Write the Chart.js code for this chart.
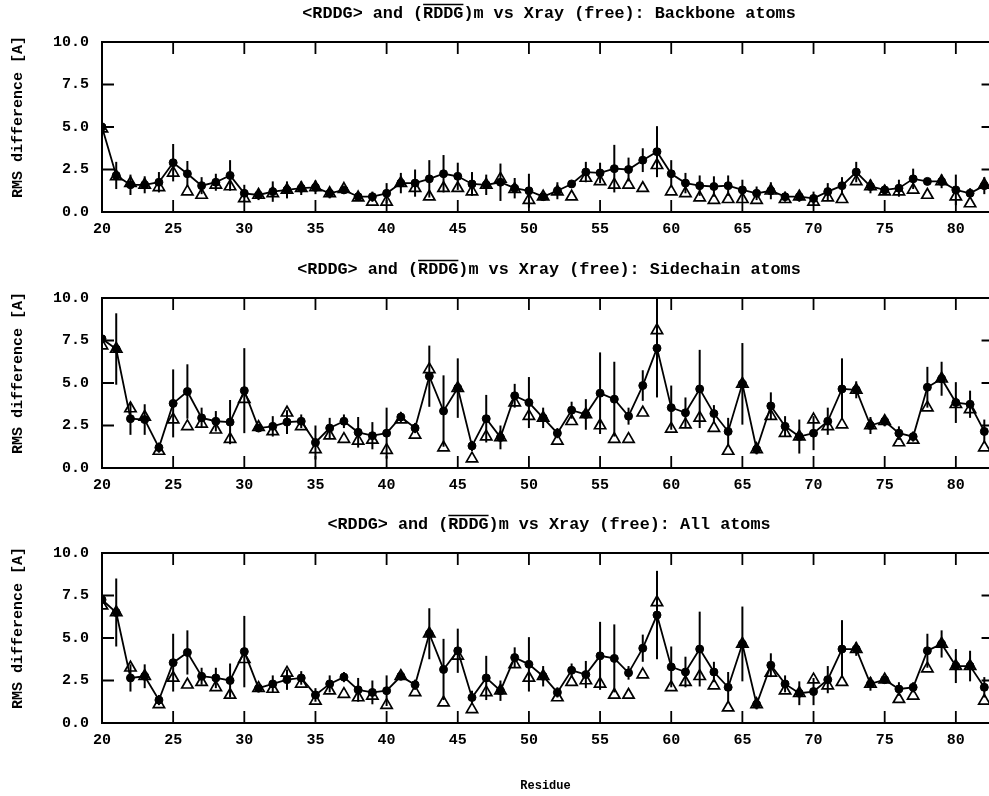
<!DOCTYPE html>
<html>
<head>
<meta charset="utf-8">
<script src="https://cdn.jsdelivr.net/npm/chart.js@4.4.1/dist/chart.umd.min.js"></script>
<style>
  html, body { margin: 0; padding: 0; background: #ffffff; }
  #wrap { position: relative; width: 989px; height: 796px; overflow: hidden; background: #ffffff; }
  canvas { position: absolute; left: 0; }
</style>
</head>
<body>
<div id="wrap">
  <canvas id="backbone" width="989" height="250" style="top:0px"></canvas>
  <canvas id="sidechain" width="989" height="250" style="top:256px"></canvas>
  <canvas id="allatoms" width="989" height="285" style="top:511px"></canvas>
</div>
<script>
const residues = [20, 21, 22, 23, 24, 25, 26, 27, 28, 29, 30, 31, 32, 33, 34, 35, 36, 37, 38, 39, 40,
  41, 42, 43, 44, 45, 46, 47, 48, 49, 50, 51, 52, 53, 54, 55, 56, 57, 58, 59, 60, 61,
  62, 63, 64, 65, 66, 67, 68, 69, 70, 71, 72, 73, 74, 75, 76, 77, 78, 79, 80, 81, 82]

// Backbone atoms: <RDDG> mean, its spread, and (RDDG)m vs Xray
const backboneMean = [5.0, 2.15, 1.6, 1.6, 1.75, 2.9, 2.25, 1.55, 1.75, 2.15, 1.1, 1.0, 1.2, 1.3, 1.4, 1.45, 1.1, 1.3, 0.9, 0.9, 1.1,
  1.7, 1.7, 1.95, 2.25, 2.1, 1.65, 1.6, 1.75, 1.4, 1.25, 0.9, 1.25, 1.65, 2.35, 2.3, 2.55, 2.5, 3.05, 3.55, 2.25, 1.7,
  1.55, 1.5, 1.55, 1.3, 1.1, 1.25, 0.9, 0.9, 0.8, 1.2, 1.55, 2.35, 1.5, 1.3, 1.4, 1.95, 1.8, 1.8, 1.3, 1.1, 1.55]
const backboneErr = [0.2, 0.8, 0.6, 0.5, 0.6, 1.1, 0.75, 0.5, 0.5, 0.9, 0.5, 0.3, 0.6, 0.5, 0.4, 0.4, 0.3, 0.2, 0.2, 0.3, 0.6,
  0.6, 0.8, 1.1, 1.1, 0.8, 0.7, 0.6, 1.1, 0.6, 1.0, 0.2, 0.5, 0.2, 0.6, 0.6, 1.4, 0.7, 0.7, 1.5, 0.8, 0.6,
  0.6, 0.6, 0.6, 0.6, 0.4, 0.5, 0.3, 0.3, 0.4, 0.5, 0.5, 0.6, 0.4, 0.3, 0.5, 0.6, 0.2, 0.4, 0.9, 0.3, 0.5]
const backboneXray = [4.9, 2.1, 1.7, 1.6, 1.45, 2.3, 1.2, 1.0, 1.6, 1.5, 0.8, 1.0, 1.1, 1.3, 1.4, 1.45, 1.1, 1.35, 0.85, 0.6, 0.6,
  1.7, 1.4, 0.9, 1.4, 1.4, 1.2, 1.6, 1.95, 1.35, 0.7, 0.9, 1.2, 0.9, 2.0, 1.8, 1.6, 1.6, 1.4, 2.75, 1.2, 1.1,
  0.85, 0.7, 0.75, 0.75, 0.7, 1.25, 0.75, 0.9, 0.6, 0.85, 0.75, 1.8, 1.5, 1.2, 1.2, 1.3, 1.0, 1.8, 0.9, 0.5, 1.6]

// Sidechain atoms
const sidechainMean = [7.6, 7.0, 2.9, 2.85, 1.2, 3.8, 4.5, 2.95, 2.75, 2.7, 4.55, 2.35, 2.45, 2.7, 2.75, 1.5, 2.35, 2.75, 2.1, 1.9, 2.05,
  3.0, 2.35, 5.4, 3.35, 4.7, 1.3, 2.9, 1.8, 4.25, 3.85, 2.95, 2.05, 3.4, 3.15, 4.4, 4.05, 3.05, 4.85, 7.05, 3.55, 3.25,
  4.65, 3.2, 2.15, 4.95, 1.1, 3.65, 2.45, 1.85, 2.05, 2.75, 4.65, 4.6, 2.5, 2.75, 2.05, 1.85, 4.75, 5.25, 3.85, 3.75, 2.15]
const sidechainErr = [0.3, 2.1, 0.95, 0.9, 0.3, 2.0, 1.6, 0.6, 0.6, 1.3, 2.5, 0.2, 0.6, 0.7, 0.4, 1.0, 0.6, 0.4, 0.9, 0.8, 1.5,
  0.3, 0.3, 1.8, 2.1, 1.75, 0.3, 1.4, 0.7, 0.7, 1.5, 0.6, 0.3, 0.5, 0.9, 2.4, 2.2, 0.5, 0.9, 2.9, 1.3, 0.9,
  2.3, 0.5, 0.8, 2.4, 0.3, 0.8, 0.6, 1.0, 1.0, 0.8, 1.8, 0.5, 0.5, 0.3, 0.4, 0.3, 1.2, 1.0, 1.2, 0.8, 0.7]
const sidechainXray = [7.2, 7.0, 3.5, 3.0, 1.0, 2.85, 2.45, 2.6, 2.25, 1.7, 4.05, 2.4, 2.15, 3.25, 2.45, 1.1, 1.9, 1.7, 1.6, 1.65, 1.05,
  2.85, 1.95, 5.8, 1.2, 4.7, 0.55, 1.85, 1.8, 3.85, 3.05, 2.95, 1.6, 2.75, 3.15, 2.5, 1.7, 1.7, 3.25, 8.1, 2.3, 2.55,
  2.95, 2.35, 1.0, 4.95, 1.1, 3.05, 2.05, 1.85, 2.85, 2.45, 2.55, 4.6, 2.5, 2.75, 1.5, 1.65, 3.55, 5.25, 3.75, 3.45, 1.2]

// All atoms
const allMean = [7.25, 6.5, 2.65, 2.75, 1.35, 3.55, 4.15, 2.75, 2.65, 2.5, 4.2, 2.05, 2.3, 2.55, 2.65, 1.65, 2.3, 2.7, 1.95, 1.8, 1.9,
  2.75, 2.25, 5.25, 3.15, 4.25, 1.5, 2.65, 1.9, 3.85, 3.45, 2.75, 1.8, 3.1, 2.85, 3.95, 3.8, 2.95, 4.4, 6.35, 3.3, 3.0,
  4.35, 3.0, 2.1, 4.65, 1.1, 3.4, 2.3, 1.75, 1.85, 2.55, 4.35, 4.35, 2.3, 2.55, 2.0, 2.1, 4.25, 4.65, 3.35, 3.35, 2.1]
const allErr = [0.3, 2.0, 0.8, 0.7, 0.3, 1.7, 1.3, 0.5, 0.6, 1.0, 2.1, 0.2, 0.5, 0.6, 0.4, 0.4, 0.5, 0.3, 0.7, 0.7, 0.9,
  0.2, 0.3, 1.5, 1.8, 1.3, 0.4, 1.3, 0.6, 0.6, 1.6, 0.6, 0.3, 0.4, 0.8, 2.0, 2.0, 0.4, 0.8, 2.6, 1.2, 0.9,
  2.2, 0.6, 0.9, 2.2, 0.3, 0.7, 0.5, 0.7, 0.8, 0.8, 1.7, 0.4, 0.4, 0.2, 0.4, 0.3, 1.0, 0.8, 1.0, 0.9, 0.6]
const allXray = [6.9, 6.5, 3.25, 2.75, 1.1, 2.65, 2.25, 2.4, 2.1, 1.65, 3.75, 2.05, 2.0, 2.95, 2.3, 1.3, 1.9, 1.7, 1.5, 1.6, 1.05,
  2.75, 1.8, 5.25, 1.2, 3.95, 0.8, 1.8, 1.9, 3.45, 2.65, 2.75, 1.5, 2.4, 2.5, 2.3, 1.65, 1.65, 2.85, 7.1, 2.1, 2.4,
  2.75, 2.2, 0.9, 4.65, 1.1, 2.95, 1.9, 1.75, 2.55, 2.2, 2.4, 4.35, 2.3, 2.55, 1.4, 1.6, 3.2, 4.65, 3.35, 3.35, 1.3]

const titlePrefix = '<RDDG> and ('
const titleBar = 'RDDG'
const titleMiddle = ')m vs Xray (free): '
const yTitle = 'RMS difference [A]'

const FONT = '"Liberation Mono", "Courier New", monospace'
Chart.defaults.font.family = FONT
Chart.defaults.font.weight = 'bold'
Chart.defaults.color = '#000000'

function buildPanel (canvasId, suffix, mean, err, xray, isLast) {
  const plotHeight = 170
  const topPad = 42
  const bottomPad = isLast ? 3 : 0
  const canvas = document.getElementById(canvasId)

  const framePlugin = { // рамка, внутренние засечки, планки ошибок и заголовок с чертой
    id: 'panelFrame',
    beforeDatasetsDraw (chart) {
      const { ctx, scales: { x, y } } = chart
      ctx.save()
      ctx.strokeStyle = '#000000'
      ctx.lineWidth = 2
      mean.forEach((m, i) => {
        const px = x.getPixelForValue(residues[i])
        ctx.beginPath()
        ctx.moveTo(px, y.getPixelForValue(Math.max(0, m - err[i])))
        ctx.lineTo(px, y.getPixelForValue(Math.min(10, m + err[i])))
        ctx.stroke()
      })
      ctx.restore()
    },
    afterDraw (chart) {
      const { ctx, chartArea: a, scales: { x, y } } = chart
      ctx.save()
      ctx.strokeStyle = '#000000'
      ctx.lineWidth = 2
      ctx.beginPath()
      ctx.moveTo(chart.width, a.top)
      ctx.lineTo(a.left, a.top)
      ctx.lineTo(a.left, a.bottom)
      ctx.lineTo(chart.width, a.bottom)
      ctx.stroke()

      const tickLen = 12
      ctx.lineWidth = 1.8
      x.ticks.forEach(t => {
        if (t.value <= x.min) return
        const px = x.getPixelForValue(t.value)
        ctx.beginPath()
        ctx.moveTo(px, a.top)
        ctx.lineTo(px, a.top + tickLen)
        ctx.moveTo(px, a.bottom)
        ctx.lineTo(px, a.bottom - tickLen)
        ctx.stroke()
      })
      const rightEdge = x.getPixelForValue(82.65)
      y.ticks.forEach(t => {
        if (t.value <= y.min || t.value >= y.max) return
        const py = y.getPixelForValue(t.value)
        ctx.beginPath()
        ctx.moveTo(a.left, py)
        ctx.lineTo(a.left + tickLen, py)
        ctx.moveTo(rightEdge, py)
        ctx.lineTo(rightEdge - tickLen, py)
        ctx.stroke()
      })

      ctx.fillStyle = '#000000'
      ctx.textBaseline = 'middle'

      // подпись оси Y
      ctx.save()
      ctx.font = 'bold 15px ' + FONT
      ctx.textAlign = 'center'
      ctx.translate(18, (a.top + a.bottom) / 2 - 10)
      ctx.rotate(-Math.PI / 2)
      ctx.fillText(yTitle, 0, 0)
      ctx.restore()

      // заголовок с чертой над вторым RDDG
      const full = titlePrefix + titleBar + titleMiddle + suffix
      ctx.font = 'bold 16.8px ' + FONT
      ctx.textAlign = 'left'
      const startX = 549 - ctx.measureText(full).width / 2
      const ty = a.top - 28
      ctx.fillText(full, startX, ty)
      const barX = startX + ctx.measureText(titlePrefix).width
      const barW = ctx.measureText(titleBar).width
      ctx.lineWidth = 1.3
      ctx.beginPath()
      ctx.moveTo(barX, ty - 9.5)
      ctx.lineTo(barX + barW, ty - 9.5)
      ctx.stroke()
      ctx.restore()
    }
  }

  new Chart(canvas, {
    type: 'scatter',
    data: {
      datasets: [{
        label: '<RDDG>',
        data: residues.map((r, i) => ({ x: r, y: mean[i] })),
        showLine: true,
        borderColor: '#000000',
        borderWidth: 1.8,
        pointStyle: 'circle',
        pointRadius: 4,
        pointBackgroundColor: '#000000',
        pointBorderColor: '#000000',
        pointBorderWidth: 1
      }, {
        label: '(RDDG)m',
        data: residues.map((r, i) => ({ x: r, y: xray[i] })),
        showLine: false,
        pointStyle: 'triangle',
        pointRadius: 6.5,
        pointBackgroundColor: 'rgba(0,0,0,0)',
        pointBorderColor: '#000000',
        pointBorderWidth: 1.7
      }]
    },
    options: {
      responsive: false,
      animation: false,
      devicePixelRatio: 1,
      layout: {
        autoPadding: false,
        padding: { top: topPad, left: 0, right: 0, bottom: bottomPad }
      },
      plugins: {
        legend: { display: false },
        tooltip: { enabled: false }
      },
      scales: {
        x: {
          type: 'linear',
          min: 20,
          max: 82.33,
          grid: { display: false, drawTicks: false },
          border: { display: false },
          ticks: {
            stepSize: 5,
            includeBounds: false,
            padding: 8,
            maxRotation: 0,
            autoSkip: false,
            font: { size: 15, weight: 'bold' }
          },
          title: {
            display: isLast,
            text: 'Residue',
            font: { size: 12, weight: 'bold' },
            padding: { top: 0, bottom: 0 }
          },
          afterFit (scale) {
            scale.height = canvas.height - topPad - plotHeight - bottomPad
            scale.paddingLeft = 0
            scale.paddingRight = 0
          }
        },
        y: {
          min: 0,
          max: 10,
          grid: { display: false, drawTicks: false },
          border: { display: false },
          ticks: {
            stepSize: 2.5,
            padding: 13,
            font: { size: 15, weight: 'bold' },
            callback: v => v.toFixed(1)
          },
          afterFit (scale) {
            scale.width = 102
            scale.paddingTop = 0
            scale.paddingBottom = 0
          }
        }
      }
    },
    plugins: [framePlugin]
  })
}

try {
  buildPanel('backbone', 'Backbone atoms', backboneMean, backboneErr, backboneXray, false)
  buildPanel('sidechain', 'Sidechain atoms', sidechainMean, sidechainErr, sidechainXray, false)
  buildPanel('allatoms', 'All atoms', allMean, allErr, allXray, true)
} catch (error) {
  console.error(`Chart render failed: ${error}`)
}
</script>
</body>
</html>
